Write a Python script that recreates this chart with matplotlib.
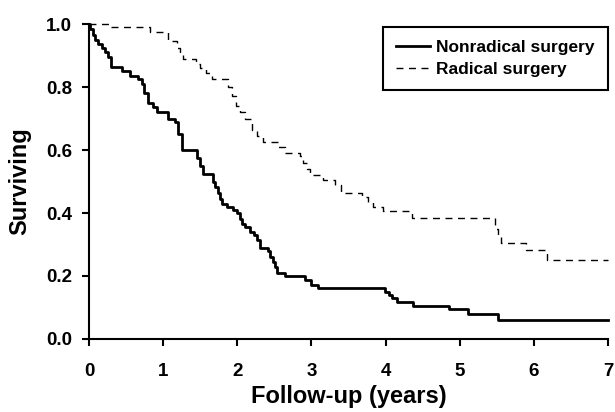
import matplotlib
matplotlib.use("Agg")
import matplotlib.pyplot as plt

plt.rcParams['font.family'] = ['Liberation Sans', 'DejaVu Sans']
plt.rcParams['font.weight'] = 'bold'

# Kaplan-Meier steps (time in years, survival after the step)
nonradical_t = [0, 0.02, 0.05, 0.08, 0.12, 0.17, 0.22, 0.26, 0.30, 0.45, 0.55, 0.66,
                0.71, 0.74, 0.80, 0.86, 0.92, 1.07, 1.16, 1.20, 1.25, 1.46, 1.50, 1.54,
                1.67, 1.70, 1.74, 1.77, 1.80, 1.86, 1.94, 2.00, 2.03, 2.06, 2.10, 2.17,
                2.22, 2.26, 2.30, 2.41, 2.44, 2.48, 2.51, 2.54, 2.65, 2.91, 3.00, 3.09,
                3.99, 4.04, 4.09, 4.15, 4.37, 4.85, 5.11, 5.52, 7.0]
nonradical_s = [1.0, 0.985, 0.965, 0.95, 0.935, 0.925, 0.91, 0.895, 0.865, 0.85, 0.835, 0.825,
                0.81, 0.78, 0.75, 0.735, 0.72, 0.70, 0.69, 0.65, 0.60, 0.575, 0.55, 0.525,
                0.50, 0.484, 0.465, 0.445, 0.43, 0.42, 0.41, 0.40, 0.38, 0.365, 0.355, 0.34,
                0.33, 0.315, 0.29, 0.28, 0.26, 0.245, 0.23, 0.21, 0.20, 0.188, 0.172, 0.162,
                0.15, 0.14, 0.13, 0.118, 0.105, 0.095, 0.08, 0.06, 0.06]

radical_t = [0, 0.28, 0.82, 1.07, 1.19, 1.23, 1.27, 1.45, 1.50, 1.58, 1.66, 1.88, 1.93,
             1.98, 2.03, 2.10, 2.20, 2.27, 2.35, 2.55, 2.64, 2.84, 2.88, 2.94, 2.98, 3.15,
             3.32, 3.40, 3.68, 3.76, 3.83, 3.96, 4.35, 5.47, 5.51, 5.56, 5.90, 6.18, 7.0]
radical_s = [1.0, 0.99, 0.974, 0.946, 0.925, 0.905, 0.89, 0.873, 0.86, 0.845, 0.825, 0.80, 0.77,
             0.74, 0.72, 0.70, 0.665, 0.645, 0.627, 0.61, 0.59, 0.58, 0.56, 0.54, 0.52, 0.506,
             0.49, 0.465, 0.45, 0.435, 0.42, 0.405, 0.385, 0.35, 0.325, 0.305, 0.283, 0.25, 0.25]

x_ticks = [0, 1, 2, 3, 4, 5, 6, 7]
y_ticks = [0.0, 0.2, 0.4, 0.6, 0.8, 1.0]

fig = plt.figure(figsize=(6.15, 4.12), dpi=100)
ax = fig.add_axes([0.1447, 0.1772, 0.8439, 0.7645])

ax.step(nonradical_t, nonradical_s, where='post', color='black', lw=2.0,
        label='Nonradical surgery', clip_on=False)
ax.step(radical_t, radical_s, where='post', color='black', lw=1.0,
        dashes=(5, 4), label='Radical surgery', clip_on=False)

ax.set_xlim(0, 7)
ax.set_ylim(0, 1)
ax.set_xticks(x_ticks)
ax.set_yticks(y_ticks)
ax.set_yticklabels([f"{v:.1f}" for v in y_ticks])

for side in ['top', 'right']:
    ax.spines[side].set_visible(False)
for side in ['left', 'bottom']:
    ax.spines[side].set_linewidth(1.5)
ax.tick_params(direction='out', length=5, width=1.5, labelsize=13.5)
ax.tick_params(axis='x', pad=12)
ax.tick_params(axis='y', pad=7)

ax.set_xlabel('Follow-up (years)', fontsize=17, fontweight='bold', labelpad=4)
ax.set_ylabel('Surviving', fontsize=17, fontweight='bold', labelpad=11)

leg = ax.legend(loc='upper right', fontsize=12.5, fancybox=False, framealpha=1,
                edgecolor='black', handlelength=2.0, handletextpad=0.35,
                labelspacing=0.4, borderpad=0.75, borderaxespad=0,
                bbox_to_anchor=(1.0, 0.99))
leg.get_frame().set_linewidth(1.5)

fig.savefig('out.png', dpi=100)
